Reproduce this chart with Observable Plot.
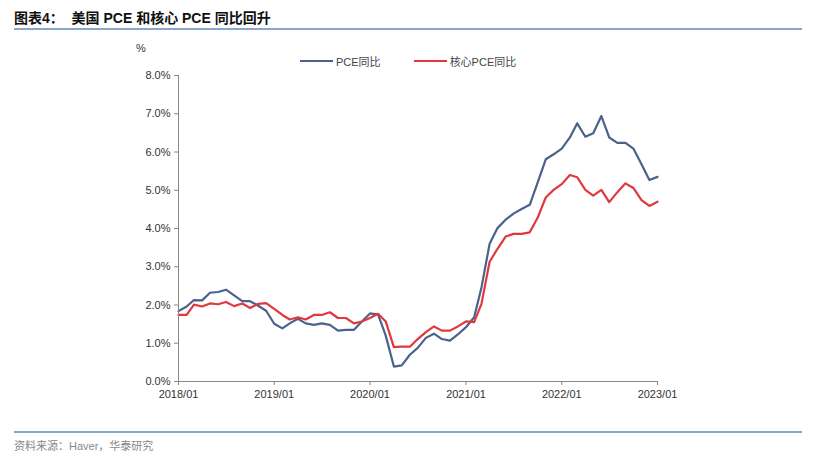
<!DOCTYPE html>
<html><head><meta charset="utf-8">
<script src="https://cdn.jsdelivr.net/npm/d3@7"></script>
<script src="https://cdn.jsdelivr.net/npm/@observablehq/plot@0.6"></script>
<style>
body{margin:0;background:#fff;font-family:"Liberation Sans",Arial,"Noto Sans CJK SC",sans-serif;}
#wrap{position:relative;width:819px;height:463px;overflow:hidden;}
#title{position:absolute;left:14px;top:7px;font-size:14px;font-weight:bold;color:#111;font-family:"Liberation Sans","Noto Sans CJK SC",sans-serif;}
#tline{position:absolute;left:14px;top:28px;width:788px;height:2px;background:#8aa6d0;}
#fline{position:absolute;left:14px;top:431px;width:788px;height:2px;background:#8aa6d0;}
#foot{position:absolute;left:14px;top:437px;font-size:11px;color:#888;font-family:"Liberation Sans","Noto Sans CJK SC",sans-serif;}
#chart{position:absolute;left:0;top:40px;}
#unit{position:absolute;left:136px;top:42px;font-size:11px;color:#333;}
#legend{position:absolute;top:53px;left:300px;font-size:11px;color:#444;display:flex;align-items:center;font-family:"Liberation Sans","Noto Sans CJK SC",sans-serif;}
.sw{display:inline-block;width:33px;height:2px;margin-right:3px;}
</style></head>
<body><div id="wrap">
<div id="title">图表4：&nbsp;&nbsp;美国 PCE 和核心 PCE 同比回升</div>
<div id="tline"></div>
<div id="unit">%</div>
<div id="legend"><span class="sw" style="background:#4a628c"></span><span>PCE同比</span><span style="width:33px;display:inline-block"></span><span class="sw" style="background:#e0383d"></span><span>核心PCE同比</span></div>
<div id="chart"></div>
<div id="fline"></div>
<div id="foot">资料来源：Haver，华泰研究</div>
</div>
<script>
const startMonth = "2018-01";
const seriesNames = ["PCE同比", "核心PCE同比"];
const pce = [1.84,1.96,2.13,2.12,2.32,2.34,2.40,2.25,2.10,2.10,1.98,1.85,
 1.51,1.39,1.52,1.64,1.52,1.48,1.52,1.48,1.33,1.35,1.35,1.57,
 1.78,1.75,1.20,0.39,0.42,0.70,0.88,1.14,1.25,1.11,1.07,1.23,
 1.42,1.68,2.46,3.60,4.01,4.23,4.39,4.51,4.62,5.20,5.81,5.94,
 6.09,6.38,6.75,6.40,6.49,6.94,6.38,6.24,6.24,6.09,5.68,5.27,5.35];
const corePce = [1.74,1.74,2.01,1.96,2.04,2.02,2.08,1.97,2.04,1.92,2.03,2.05,
 1.90,1.74,1.62,1.68,1.62,1.74,1.74,1.81,1.66,1.66,1.52,1.57,
 1.66,1.77,1.57,0.90,0.91,0.91,1.11,1.29,1.44,1.33,1.33,1.44,
 1.57,1.55,2.03,3.13,3.47,3.79,3.86,3.86,3.90,4.28,4.81,5.01,
 5.16,5.40,5.34,5.01,4.86,5.01,4.69,4.95,5.18,5.06,4.74,4.59,4.70];
const yTicks = [0,1,2,3,4,5,6,7,8];
const xTickYears = [2018,2019,2020,2021,2022,2023];

const d0 = new Date(startMonth + "-01T00:00:00Z");
const monthDate = i => new Date(Date.UTC(d0.getUTCFullYear(), d0.getUTCMonth() + i, 1));
const data = [];
pce.forEach((v,i)=>data.push({date:monthDate(i), value:v, s:seriesNames[0]}));
corePce.forEach((v,i)=>data.push({date:monthDate(i), value:v, s:seriesNames[1]}));
const xTicks = xTickYears.map(y => new Date(Date.UTC(y,0,1)));

const chart = Plot.plot({
  width: 819, height: 390,
  marginLeft: 178, marginRight: 162, marginTop: 35, marginBottom: 49,
  style: {fontFamily: '"Liberation Sans", Arial, sans-serif', fontSize: "11px", color: "#333", background: "transparent"},
  x: {type: "utc", domain: [xTicks[0], xTicks[xTicks.length-1]]},
  y: {domain: [0, 8]},
  color: {domain: seriesNames, range: ["#4a628c", "#e0383d"]},
  marks: [
    Plot.lineY(data, {x: "date", y: "value", stroke: "s", strokeWidth: 2.2, curve: "linear"}),
    Plot.ruleY([0], {stroke: "#888", strokeWidth: 1}),
    Plot.ruleX([xTicks[0]], {stroke: "#888", strokeWidth: 1}),
    Plot.axisX({ticks: xTicks, tickFormat: d3.utcFormat("%Y/%m"), tickSize: 4, stroke: "#888", tickPadding: 5, fill: "#333", label: null}),
    Plot.axisY({ticks: yTicks, tickFormat: d => d.toFixed(1) + "%", tickSize: 4, stroke: "#888", tickPadding: 4, fill: "#333", label: null})
  ]
});
document.getElementById("chart").appendChild(chart);
</script>
</body></html>
